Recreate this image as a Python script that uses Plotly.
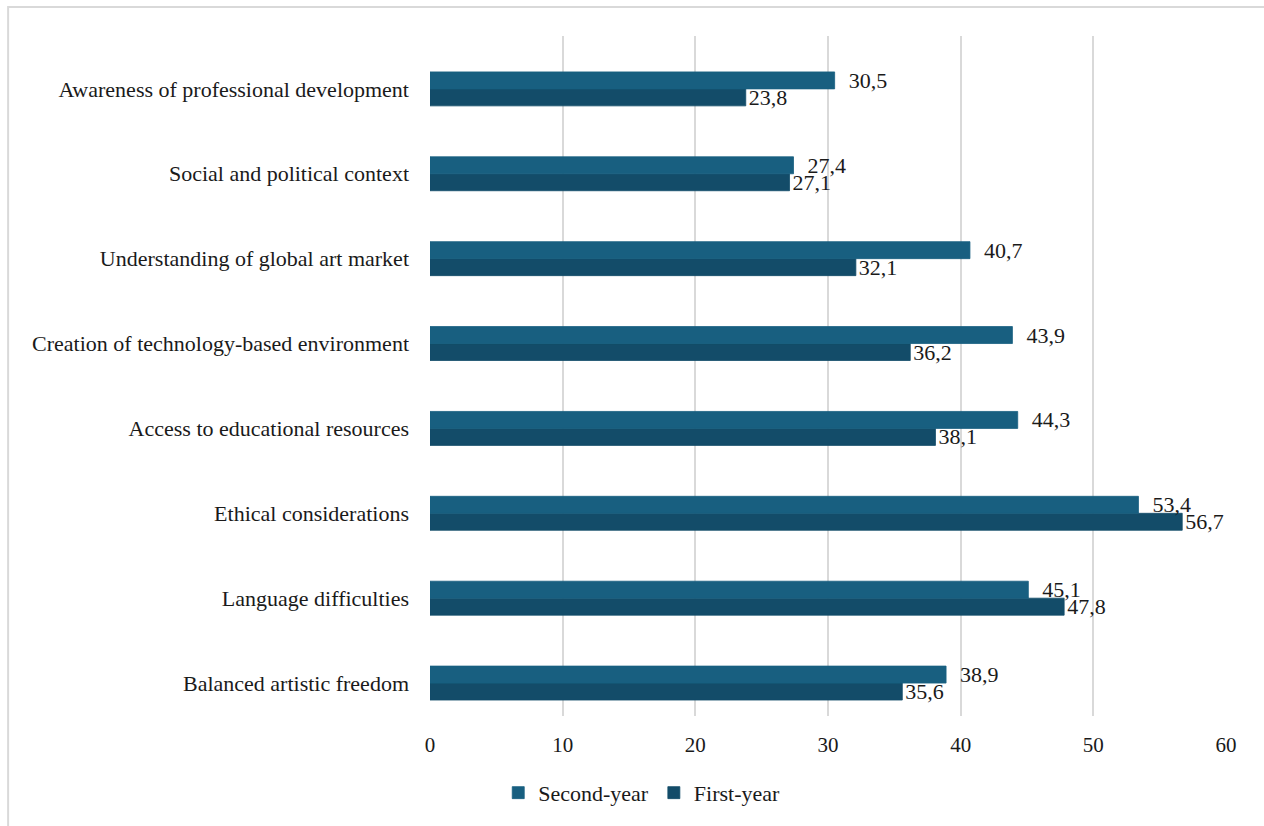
import plotly.graph_objects as go

categories = [
    "Balanced artistic freedom",
    "Language difficulties",
    "Ethical considerations",
    "Access to educational resources",
    "Creation of technology-based environment",
    "Understanding of global art market",
    "Social and political context",
    "Awareness of professional development",
]
second_year = [38.9, 45.1, 53.4, 44.3, 43.9, 40.7, 27.4, 30.5]
first_year = [35.6, 47.8, 56.7, 38.1, 36.2, 32.1, 27.1, 23.8]
x_ticks = [0, 10, 20, 30, 40, 50, 60]

FONT = "Liberation Serif, Times New Roman, serif"
C_SECOND = "#185F80"
C_FIRST = "#134C69"


def fmt(v, pad=""):
    return pad + f"{v:.1f}".replace(".", ",")


fig = go.Figure()
fig.add_trace(go.Bar(
    y=categories, x=first_year, orientation="h", name="First-year",
    marker=dict(color=C_FIRST, line=dict(color=C_FIRST, width=0.8)),
    text=[fmt(v) for v in first_year], textposition="outside",
    constraintext="none", cliponaxis=False,
    textfont=dict(family=FONT, size=22, color="#1a1a1a"),
))
fig.add_trace(go.Bar(
    y=categories, x=second_year, orientation="h", name="Second-year",
    marker=dict(color=C_SECOND, line=dict(color=C_SECOND, width=0.8)),
    text=[fmt(v, "\u00a0\u00a0") for v in second_year], textposition="outside",
    constraintext="none", cliponaxis=False,
    textfont=dict(family=FONT, size=22, color="#1a1a1a"),
))

fig.update_layout(
    width=1264, height=826,
    margin=dict(l=430, r=38, t=36, b=108),
    paper_bgcolor="white", plot_bgcolor="white",
    barmode="group", bargap=0.6, bargroupgap=0,
    font=dict(family=FONT, size=22, color="#1a1a1a"),
    xaxis=dict(
        range=[0, 60], tickvals=x_ticks, showgrid=True,
        gridcolor="#d9d9d9", gridwidth=1.5, zeroline=False,
        showline=False, ticks="", ticklabelstandoff=14,
        tickfont=dict(family=FONT, size=21),
    ),
    yaxis=dict(
        type="category", categoryorder="array", categoryarray=categories,
        range=[-0.388, 7.623], showgrid=False, zeroline=False,
        showline=False, ticks="", ticklabelstandoff=20,
        tickfont=dict(family=FONT, size=22),
    ),
    legend=dict(
        orientation="h", traceorder="reversed",
        x=0.266, xanchor="center", y=-0.113, yanchor="middle",
        font=dict(family=FONT, size=22), itemwidth=30,
    ),
    shapes=[dict(
        type="rect", xref="paper", yref="paper",
        x0=-0.530, x1=1.1, y0=-0.2, y1=1.0425,
        line=dict(color="#d9d9d9", width=2), layer="below",
    )],
)

fig.write_html("out.html")
